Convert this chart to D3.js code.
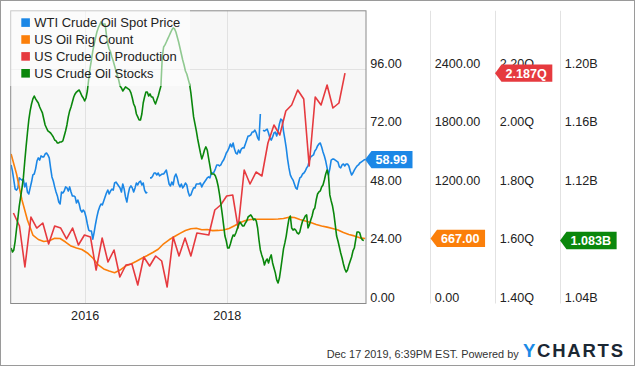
<!DOCTYPE html>
<html><head><meta charset="utf-8">
<script src="https://cdn.jsdelivr.net/npm/d3@7"></script>
<style>
body{margin:0;background:#fff}
svg{display:block;font-family:"Liberation Sans",Arial,Helvetica,sans-serif}
</style></head>
<body><svg id="chart" width="635" height="366"></svg>
<script>
// ---------- DATA ----------
const seriesNames = ["WTI Crude Oil Spot Price","US Oil Rig Count","US Crude Oil Production","US Crude Oil Stocks"];
const seriesColors = ["#1b87e6","#fb7f0a","#e63a3f","#0a870c"];

const weeklyStart = "2014-12-19";          // weekly series start (Fridays)
const wtiValues = [
56.8,54.3,50.6,46.9,46.5,47.4,51.5,51.0,50.6,51.0,
47.8,49.4,45.7,44.9,47.4,49.8,52.7,53.1,55.2,58.4,
59.7,58.8,60.5,60.1,60.1,61.3,61.7,60.9,59.7,55.6,
51.9,50.2,47.8,45.7,44.1,41.6,40.8,45.7,45.3,46.1,
47.8,47.4,46.1,47.8,45.7,44.1,44.1,43.7,41.2,42.4,
40.8,38.3,37.5,38.3,37.5,35.5,32.6,30.1,29.7,29.7,
26.4,29.3,32.6,35.5,37.9,39.6,40.8,40.4,42.0,43.7,
45.3,46.5,44.9,46.1,46.9,46.5,49.4,49.8,49.0,48.2,
47.4,45.7,49.0,47.0,43.7,41.6,44.9,47.4,48.2,47.4,
45.7,47.4,49.4,48.6,49.8,50.2,48.6,49.4,46.5,45.3,
45.7,null,51.5,51.5,52.3,53.5,53.5,52.7,53.5,52.3,
52.7,53.1,53.1,53.9,54.7,51.9,49.0,48.2,49.8,48.6,
51.9,53.1,51.5,49.0,47.8,49.0,47.4,48.2,49.4,48.6,
45.7,44.1,44.5,46.1,47.4,47.4,49.0,49.0,49.0,49.4,
47.8,49.0,49.8,50.6,51.5,51.9,51.5,53.5,53.5,53.9,
55.2,56.8,56.8,56.4,56.8,58.0,58.8,60.1,61.7,62.5,
63.8,65.4,64.2,65.8,63.3,61.7,61.3,62.9,61.7,63.3,
63.8,63.8,65.4,67.0,68.7,68.7,69.1,70.3,70.3,71.1,
69.9,67.9,67.0,77.7,null,71.1,70.7,71.1,71.5,69.9,
67.9,67.0,68.3,69.9,70.3,68.7,70.7,73.6,75.6,75.2,
70.7,67.4,63.8,59.2,55.6,52.7,51.5,50.6,49.0,47.4,
46.9,49.4,51.5,51.9,53.1,53.5,54.3,55.6,56.4,58.8,
60.1,60.5,60.9,62.5,63.3,64.6,65.4,65.8,64.2,62.1,
60.5,58.4,55.6,52.7,55.2,58.8,59.2,59.2,58.8,58.4,
58.0,56.0,55.6,56.8,57.2,56.4,57.2,57.2,56.4,54.3,
52.7,53.5,54.7,55.6,56.4,56.8,57.6,58.0,58.4,58.8,58.99];

const stockValues = [  // billions of barrels, weekly
1.0779,1.0752,1.0766,1.0827,1.0909,1.0984,1.1066,1.1128,1.1189,1.1258,
1.1367,1.1470,1.1565,1.1654,1.1716,1.1763,1.1798,1.1818,1.1798,1.1784,
1.1770,1.1743,1.1722,1.1702,1.1661,1.1620,1.1599,1.1579,1.1572,1.1565,
1.1552,1.1538,1.1517,1.1511,1.1497,1.1497,1.1504,1.1504,1.1511,1.1545,
1.1579,1.1620,1.1675,1.1716,1.1743,1.1777,1.1811,1.1832,1.1845,1.1852,
1.1859,1.1839,1.1818,1.1804,1.1784,1.1804,1.1852,1.1934,1.2009,1.2064,
1.2126,1.2173,1.2214,1.2255,1.2283,1.2303,1.2324,1.2303,1.2310,1.2310,
1.2235,1.2173,1.2139,1.2119,1.2085,1.2057,1.2023,1.1989,1.1962,1.1927,
1.1886,1.1873,1.1852,1.1866,1.1880,1.1873,1.1866,1.1859,1.1839,1.1804,
1.1763,1.1743,1.1695,1.1675,1.1654,1.1654,1.1695,1.1770,1.1811,1.1845,
1.1845,1.1818,1.1832,1.1811,1.1811,1.1784,1.1763,1.1791,1.1818,1.1852,
1.1886,1.2085,1.2153,1.2167,1.2187,1.2208,1.2228,1.2249,1.2269,1.2283,
1.2276,1.2255,1.2221,1.2187,1.2146,1.2105,1.2064,1.2030,1.1989,1.1968,
1.1934,1.1900,1.1839,1.1757,1.1675,1.1627,1.1579,1.1524,1.1476,1.1429,
1.1388,1.1415,1.1449,1.1470,1.1449,1.1394,1.1340,1.1285,1.1285,1.1285,
1.1271,1.1244,1.1203,1.1148,1.1080,1.1012,1.0937,1.0861,1.0827,1.0779,
1.0779,1.0807,1.0841,1.0868,1.0861,1.0882,1.0909,1.0937,1.0957,1.0943,
1.0930,1.0930,1.0950,1.0964,1.0991,1.0998,1.1005,1.0991,1.0971,1.0978,
1.0964,1.0916,1.0834,1.0766,1.0732,1.0704,1.0663,1.0691,1.0704,1.0677,
1.0711,1.0732,1.0677,1.0643,1.0609,1.0561,1.0540,1.0574,1.0636,1.0704,
1.0773,1.0814,1.0861,1.0923,1.0978,1.0998,1.0916,1.0902,1.0909,1.0902,
1.0882,1.0875,1.0889,1.0930,1.0964,1.0978,1.0998,1.1005,1.0916,1.0937,
1.0971,1.0998,1.1039,1.1053,1.1107,1.1148,1.1162,1.1169,1.1196,1.1210,
1.1244,1.1285,1.1312,1.1278,1.1142,1.1101,1.1066,1.1012,1.0937,1.0861,
1.0827,1.0786,1.0745,1.0711,1.0670,1.0636,1.0615,1.0629,1.0663,1.0691,
1.0718,1.0759,1.0779,1.0834,1.0889,1.0889,1.0882,1.0848,1.0834,1.083];

const rigStepWeeks = 4;   // rig count sampled every 4 weeks from weeklyStart
const rigValues = [1532,1327,1061,856,702,656,635,644,668,666,630,589,569,553,518,466,395,354,333,316,
343,384,405,433,464,492,523,556,612,653,687,719,748,766,771,756,758,747,749,753,
768,797,828,850,861,863,863,863,863,866,871,885,881,861,846,830,810,794,783,768,
753,727,707,693,673,667];

const prodFirstMonth = "2014-12";   // monthly, month-end
const prodValues = [
1.7092,1.6648,1.5247,1.6955,1.6579,1.6750,1.6033,1.6648,1.6579,1.6204,
1.6579,1.5999,1.6340,1.6272,1.5144,1.6238,1.5418,1.5828,1.4905,1.5315,
1.5349,1.4632,1.5589,1.5281,1.5623,1.5452,1.4564,1.6272,1.5623,1.6238,
1.5623,1.6409,1.6374,1.6340,1.7194,1.7365,1.7673,1.7707,1.6579,1.8561,
1.8083,1.8493,1.8356,1.9483,2.0098,1.9757,2.0577,2.0782,2.1294,2.0987,
1.8698,2.1055,2.0782,2.1465,2.0679,2.0850,2.187];

// visible tick labels (600.00 and 1.08B sit under the last-value tags)
const priceTicks = [0,24,48,72,96];
const rigTicks = [0,1200,1800,2400];
const prodTicks = [1.4,1.6,1.8,2.0,2.2];
const stockTicks = [1.04,1.12,1.16,1.20];
const gridTicks = [24,48,72,96];
const yearTicks = ["2016-01-01","2018-01-01"];
const lastLabels = ["58.99","667.00","2.187Q","1.083B"];
const footerText = "Dec 17 2019, 6:39PM EST.  Powered by";

// ---------- BUILD ----------
const parse = d3.timeParse("%Y-%m-%d");
const start = parse(weeklyStart);
const wti = wtiValues.map((v,i)=>({d:d3.timeDay.offset(start,7*i),v}));
const stocks = stockValues.map((v,i)=>({d:d3.timeDay.offset(start,7*i),v}));
const rigs = rigValues.map((v,i)=>({d:d3.timeDay.offset(start,7*rigStepWeeks*i),v}));
const pm = d3.timeParse("%Y-%m")(prodFirstMonth);
const prod = prodValues.map((v,i)=>({d:d3.timeDay.offset(d3.timeMonth.offset(pm,i+1),-1),v}));

const L=10.7,R=366,T=10.8,B=303.5;
const x = d3.scaleTime().domain([new Date(2014,11,17),new Date(2019,11,17)]).range([L,R]);
const yP = d3.scaleLinear().domain([0,120]).range([B,T]);
const yR = d3.scaleLinear().domain([0,3000]).range([B,T]);
const yQ = d3.scaleLinear().domain([1.4,2.4]).range([B,T]);
const yS = d3.scaleLinear().domain([1.04,1.24]).range([B,T]);

const svg = d3.select("#chart");
svg.append("rect").attr("x",0).attr("y",0).attr("width",635).attr("height",366).attr("fill","#fff");
svg.append("rect").attr("x",L).attr("y",T).attr("width",R-L).attr("height",B-T).attr("fill","#f7f7f7");

// grid
const grid = svg.append("g").attr("stroke","#e2e2e2").attr("stroke-width",1);
gridTicks.forEach(t=>grid.append("line").attr("x1",L).attr("x2",R).attr("y1",Math.round(yP(t))+0.5).attr("y2",Math.round(yP(t))+0.5));
yearTicks.forEach(t=>{const xx=Math.round(x(parse(t)))+0.5;grid.append("line").attr("x1",xx).attr("x2",xx).attr("y1",T).attr("y2",B);});
const cols=[R,430.5,495.5,560.5];
cols.slice(1).forEach(c=>svg.append("line").attr("x1",c).attr("x2",c).attr("y1",T).attr("y2",B).attr("stroke","#e2e2e2"));

// series
svg.append("clipPath").attr("id","clip").append("rect").attr("x",L).attr("y",T).attr("width",R-L).attr("height",B-T);
const g = svg.append("g").attr("clip-path","url(#clip)");
const mk = ys => d3.line().defined(d=>d.v!=null).x(d=>x(d.d)).y(d=>ys(d.v));
const data=[[wti,yP],[rigs,yR],[prod,yQ],[stocks,yS]];
data.forEach(([ds,ys],k)=>g.append("path").datum(ds).attr("d",mk(ys)).attr("fill","none")
  .attr("stroke",seriesColors[k]).attr("stroke-width",1.6).attr("stroke-linejoin","round"));

// plot border
svg.append("rect").attr("x",L).attr("y",T).attr("width",R-L).attr("height",B-T).attr("fill","none").attr("stroke","#8a8a8a").attr("stroke-width",1);

// legend
svg.append("rect").attr("x",9).attr("y",9).attr("width",181).attr("height",77).attr("fill","#fff").attr("fill-opacity",0.55);
const lg = svg.append("g");
seriesNames.forEach((n,i)=>{
  const cy=22.6+16.9*i;
  lg.append("rect").attr("x",21.3).attr("y",cy-4.3).attr("width",8.6).attr("height",8.6).attr("fill",seriesColors[i]);
  lg.append("text").attr("x",34.3).attr("y",cy+4.6).attr("font-size",13).attr("fill","#222").text(n);
});

// right axes
const fmts=[d=>d.toFixed(2),d=>d.toFixed(2),d=>d.toFixed(2)+"Q",d=>d.toFixed(2)+"B"];
const scales=[yP,yR,yQ,yS];
const ticks=[priceTicks,rigTicks,prodTicks,stockTicks];
scales.forEach((s,k)=>{
  const ax = svg.append("g").attr("transform",`translate(${cols[k]+4.3},0)`)
    .call(d3.axisRight(s).tickValues(ticks[k]).tickFormat(fmts[k]).tickSize(0).tickPadding(0));
  ax.select(".domain").remove();
  ax.selectAll("text").attr("dy","-0.16em").attr("font-size",12.6).attr("fill","#222")
    .attr("font-family","'Liberation Sans',Arial,sans-serif");
});

// x axis
const xa = svg.append("g").attr("transform",`translate(0,${B})`)
  .call(d3.axisBottom(x).tickValues(yearTicks.map(parse)).tickFormat(d3.timeFormat("%Y")).tickSize(0).tickPadding(8));
xa.select(".domain").remove();
xa.selectAll("text").attr("font-size",12.6).attr("fill","#222").attr("font-family","'Liberation Sans',Arial,sans-serif");

// last value tags
const lastVals=[wtiValues[wtiValues.length-1],rigValues[rigValues.length-1],prodValues[prodValues.length-1],stockValues[stockValues.length-1]];
const tipX=[365,430.5,495,560];
lastVals.forEach((v,k)=>{
  const cy=scales[k](v), tx=tipX[k];
  const tg=svg.append("g");
  const path=tg.append("path").attr("fill",seriesColors[k]);
  const t=tg.append("text").attr("x",tx+10.5).attr("y",cy+4.5).attr("font-size",12.6).attr("font-weight","bold")
    .attr("fill","#fff").text(lastLabels[k]);
  const w=t.node().getComputedTextLength();
  const r=tx+10.5+w+5.5, h=8.7;
  path.attr("d",`M${tx},${cy}L${tx+6.5},${cy-h}L${r},${cy-h}L${r},${cy+h}L${tx+6.5},${cy+h}Z`);
});

// footer
svg.append("text").attr("x",326.7).attr("y",357.5).attr("font-size",11.2).attr("fill","#333")
  .attr("textLength",192).attr("lengthAdjust","spacingAndGlyphs").text(footerText);
const logo=svg.append("text").attr("x",523).attr("y",357).attr("font-size",18.5).attr("font-weight","bold")
  .attr("textLength",100).attr("lengthAdjust","spacing");
logo.append("tspan").attr("fill","#1a8ae6").text("Y");
logo.append("tspan").attr("fill","#1b2733").text("CHARTS");

// outer frame
svg.append("rect").attr("x",0.5).attr("y",0.5).attr("width",634).attr("height",365).attr("fill","none").attr("stroke","#9a9a9a");
</script></body></html>
